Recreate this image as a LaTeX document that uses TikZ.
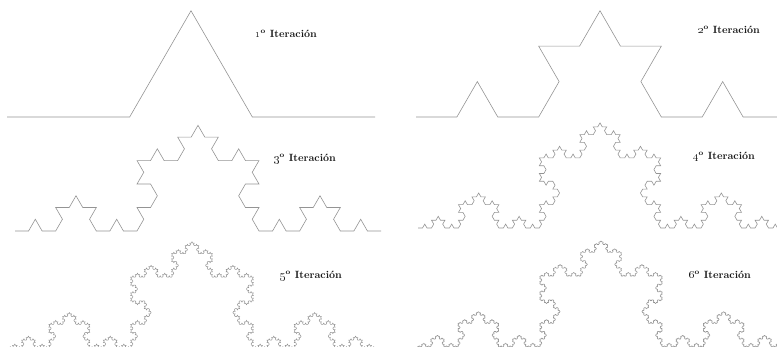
\documentclass[tikz,border=0pt]{standalone}

% Koch curve drawn with a turtle: every heading is a multiple of 60 degrees
\newdimen\kx \newdimen\ky \newdimen\kstep
\def\kochleaf#1{%
  \ifcase#1 \advance\kx\kstep
  \or \advance\kx 0.5\kstep \advance\ky 0.8660254\kstep
  \or \advance\kx -0.5\kstep \advance\ky 0.8660254\kstep
  \or \advance\kx -\kstep
  \or \advance\kx -0.5\kstep \advance\ky -0.8660254\kstep
  \or \advance\kx 0.5\kstep \advance\ky -0.8660254\kstep
  \fi
  \pgfpathlineto{\pgfqpoint{\kx}{\ky}}}
% F -> F+F--F+F  (headings h, h+60, h-60, h)
\def\kochrec#1#2{%
  \ifnum#1=0 \kochleaf{#2}\else
    \edef\kochtmp{\noexpand\kochsplit{\the\numexpr#1-1\relax}{#2}%
      {\the\numexpr#2+1\ifnum#2>4 -6\fi\relax}%
      {\the\numexpr#2+5\ifnum#2>0 -6\fi\relax}}%
    \kochtmp
  \fi}
\def\kochsplit#1#2#3#4{\kochrec{#1}{#2}\kochrec{#1}{#3}\kochrec{#1}{#4}\kochrec{#1}{#2}}
\makeatletter
\newcommand\kochcurve[3]{% start coordinate, order, total length
  \pgfpointanchor{#1}{center}%
  \kx=\pgf@x \ky=\pgf@y
  \pgfmathsetlength\kstep{#3/(3^#2)}%
  \pgfpathmoveto{\pgfqpoint{\kx}{\ky}}%
  \kochrec{#2}{0}%
  \pgfusepath{stroke}}
\makeatother

\tikzset{
  kochline/.style={color=black!42, line width=0.6pt, line join=miter},
  finekoch/.style={color=black!45, line width=0.35pt, line join=bevel},
  itlabel/.style={font=\bfseries\fontsize{10.5}{12}\selectfont, inner sep=0pt, text=black!90}
}

\newcommand{\itnum}[1]{\oldstylenums{#1}\textsuperscript{o}~Iteración}

\begin{document}
\begin{tikzpicture}[x=1pt,y=1pt]
  \useasboundingbox (0,0) rectangle (777,347);
  \clip (0,0) rectangle (777,347);

  % start points of the six curves
  \coordinate (s1) at (7,230);
  \coordinate (s2) at (416,230);
  \coordinate (s3) at (15,116);
  \coordinate (s4) at (418,119);
  \coordinate (s5) at (8,-1);
  \coordinate (s6) at (417,0);

  \begin{scope}[kochline]
    \kochcurve{s1}{1}{368}
    \kochcurve{s2}{2}{368}
    \kochcurve{s3}{3}{366}
    \kochcurve{s4}{4}{364}
  \end{scope}
  \begin{scope}[kochline, line width=0.5pt]
    \kochcurve{s5}{5}{368}
  \end{scope}
  \begin{scope}[finekoch]
    \kochcurve{s6}{6}{368}
  \end{scope}

  % iteration labels
  \node[itlabel] (l1) at (286,313) {\itnum{1}};
  \node[itlabel] (l2) at (729,317) {\itnum{2}};
  \node[itlabel] (l3) at (305,188) {\itnum{3}};
  \node[itlabel] (l4) at (724,190) {\itnum{4}};
  \node[itlabel] (l5) at (311,71) {\itnum{5}};
  \node[itlabel] (l6) at (720,72) {\itnum{6}};
\end{tikzpicture}
\end{document}
